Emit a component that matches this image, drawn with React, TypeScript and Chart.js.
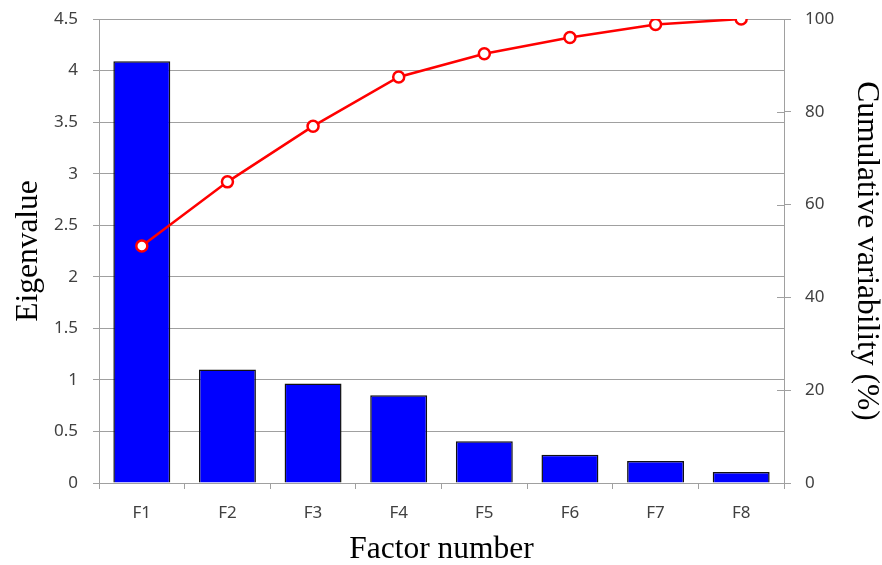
import React, { useEffect, useRef } from "react";
import { Chart, registerables } from "chart.js";

Chart.register(...registerables);

const categories = ["F1", "F2", "F3", "F4", "F5", "F6", "F7", "F8"];
const eigenvalues = [4.09, 1.1, 0.965, 0.85, 0.405, 0.275, 0.214, 0.107];
const cumulative = [51.1, 64.9, 76.9, 87.5, 92.5, 96.0, 98.8, 100];

const GRID = "#a0a0a0";
const TICK_FONT = { family: "'Noto Sans', 'Open Sans', sans-serif", size: 17 };
const TITLE_FONT = { family: "'Liberation Serif', 'DejaVu Serif', serif", size: 31.5, lineHeight: 1 };

const rightTicksPlugin = {
  id: "rightCrossTicks",
  afterDraw(chart: any) {
    const s = chart.scales.y1;
    if (!s) return;
    const ctx = chart.ctx;
    ctx.save();
    ctx.strokeStyle = GRID;
    ctx.lineWidth = 1;
    s.ticks.forEach((t: any) => {
      const y = Math.round(s.getPixelForValue(t.value)) + 0.5;
      ctx.beginPath();
      ctx.moveTo(s.left - 7, y);
      ctx.lineTo(s.left, y);
      ctx.stroke();
    });
    ctx.restore();
  },
};

export default function App() {
  const ref = useRef<HTMLCanvasElement>(null);
  useEffect(() => {
    if (!ref.current) return;
    const chart = new Chart(ref.current, {
      type: "bar",
      data: {
        labels: categories,
        datasets: [
          {
            type: "line",
            label: "Cumulative variability (%)",
            data: cumulative,
            yAxisID: "y1",
            borderColor: "#ff0000",
            borderWidth: 2.5,
            pointRadius: 5.5,
            pointBackgroundColor: "#ffffff",
            pointBorderColor: "#ff0000",
            pointBorderWidth: 2.5,
            tension: 0,
            order: 0,
          } as any,
          {
            type: "bar",
            label: "Eigenvalue",
            data: eigenvalues,
            yAxisID: "y",
            backgroundColor: "#0000ff",
            borderColor: "#111111",
            borderWidth: 1.5,
            barPercentage: 0.665,
            categoryPercentage: 1,
            order: 1,
          },
        ],
      },
      options: {
        responsive: false,
        animation: false,
        layout: { padding: { top: 19, left: 0, right: 0, bottom: 0 } },
        plugins: { legend: { display: false }, tooltip: { enabled: false } },
        scales: {
          x: {
            offset: true,
            grid: {
              offset: true,
              drawOnChartArea: false,
              drawTicks: true,
              tickLength: 6,
              color: GRID,
            },
            border: { color: GRID, width: 1 },
            ticks: { color: "#404040", font: TICK_FONT, padding: 14 },
            title: {
              display: true,
              text: "Factor number",
              color: "#000000",
              font: TITLE_FONT,
              padding: { top: 0, bottom: 0 },
            },
            afterFit: (s: any) => {
              s.height = 82;
              s.paddingLeft = 0;
              s.paddingRight = 0;
            },
          },
          y: {
            position: "left",
            min: 0,
            max: 4.5,
            ticks: {
              stepSize: 0.5,
              color: "#404040",
              font: TICK_FONT,
              padding: 15,
              callback: (v: any) => String(v),
            },
            grid: { color: GRID, tickLength: 6 },
            border: { color: GRID, width: 1 },
            title: {
              display: true,
              text: "Eigenvalue",
              color: "#000000",
              font: TITLE_FONT,
              padding: { top: 13, bottom: 0 },
            },
            afterFit: (s: any) => {
              s.width = 99;
              s.paddingTop = 0;
              s.paddingBottom = 0;
            },
          },
          y1: {
            position: "right",
            min: 0,
            max: 100,
            ticks: {
              stepSize: 20,
              color: "#404040",
              font: TICK_FONT,
              padding: 14,
              callback: (v: any) => String(v),
            },
            grid: { drawOnChartArea: false, color: GRID, tickLength: 7 },
            border: { color: GRID, width: 1 },
            title: {
              display: true,
              text: "Cumulative variability (%)",
              color: "#000000",
              font: TITLE_FONT,
              padding: { top: 0, bottom: 0 },
            },
            afterFit: (s: any) => {
              s.width = 98;
              s.paddingTop = 0;
              s.paddingBottom = 0;
            },
          },
        },
      },
      plugins: [rightTicksPlugin],
    });
    return () => chart.destroy();
  }, []);
  return (
    <div style={{ position: "fixed", left: 0, top: 0, width: 882, height: 565, background: "#fff" }}>
      <canvas ref={ref} width={882} height={565} />
    </div>
  );
}
